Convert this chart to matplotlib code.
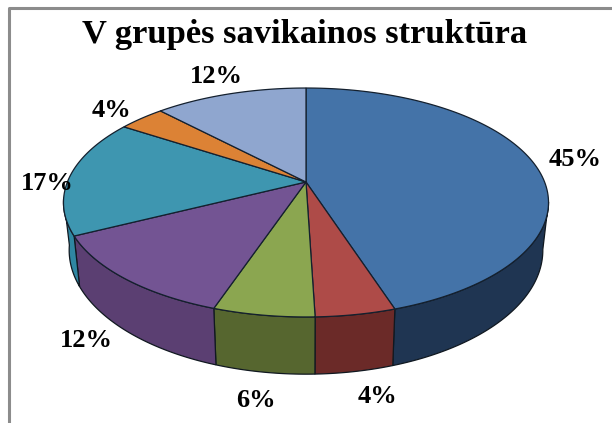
import numpy as np
import matplotlib
matplotlib.use('Agg')
import matplotlib.pyplot as plt
from matplotlib.patches import Polygon

title = 'V grupės savikainos struktūra'
shares = [45.0, 4.5, 5.7, 12.4, 16.6, 3.7, 12.1]
labels = ['45%', '4%', '6%', '12%', '17%', '4%', '12%']
top_colors = ['#4473A8', '#AE4B48', '#8BA650', '#735493', '#3E96B0', '#DC8235', '#8FA6CF']
side_colors = ['#1F3552', '#6B2A28', '#56662F', '#5B3F72', '#2F87A2', '#DC8235', '#8FA6CF']
# x centre and baseline of each label, in pixels
label_xy = [(575, 166), (378, 403), (256, 407), (86, 347), (47, 190), (111, 117), (216, 83)]

W, H = 612, 423
CX = 306
K = 0.179


def project(ang, a, b, y0, r=1.0):
    u = r * np.sin(ang)
    v = -r * np.cos(ang)
    d = 1 - K * v
    return np.column_stack([CX + a * u / d, y0 + b * v / d])


fig = plt.figure(figsize=(W / 100, H / 100), dpi=100)
ax = fig.add_axes([0, 0, 1, 1])
ax.set_xlim(0, W)
ax.set_ylim(H, 0)
ax.axis('off')

# chart frame, only the top and left show
ax.plot([8.5, 8.5, W], [H, 8.5, 8.5], color='#8C8C8C', lw=2.2, zorder=1)

edges = np.radians(np.cumsum([0] + shares) * 3.6)

# side wall first, top surface goes over it
for i in range(5):
    start, end = edges[i], edges[i + 1]
    if i == 0:
        start = np.radians(100)
    if i == 4:
        end = np.radians(262)
    t = np.linspace(start, end, 80)
    pts = np.vstack([project(t, 238.6, 110.8, 182), project(t[::-1], 233, 120, 228)])
    ax.add_patch(Polygon(pts, closed=True, fc=side_colors[i], ec='#101820', lw=0.9, zorder=2))

for i in range(len(shares)):
    t = np.linspace(edges[i], edges[i + 1], 120)
    pts = np.vstack([[[CX, 182]], project(t, 238.6, 110.8, 182)])
    ax.add_patch(Polygon(pts, closed=True, fc=top_colors[i], ec='#14202E', lw=0.9, zorder=3))

serif = ['Liberation Serif', 'DejaVu Serif']
ax.text(305, 43, title, family=serif, weight='bold', fontsize=24.8, ha='center', va='baseline', color='black')
for lab, (x, y) in zip(labels, label_xy):
    ax.text(x, y, lab, family=serif, weight='bold', fontsize=19, ha='center', va='baseline',
            color='black', zorder=5)

fig.savefig('out.png', dpi=100)
